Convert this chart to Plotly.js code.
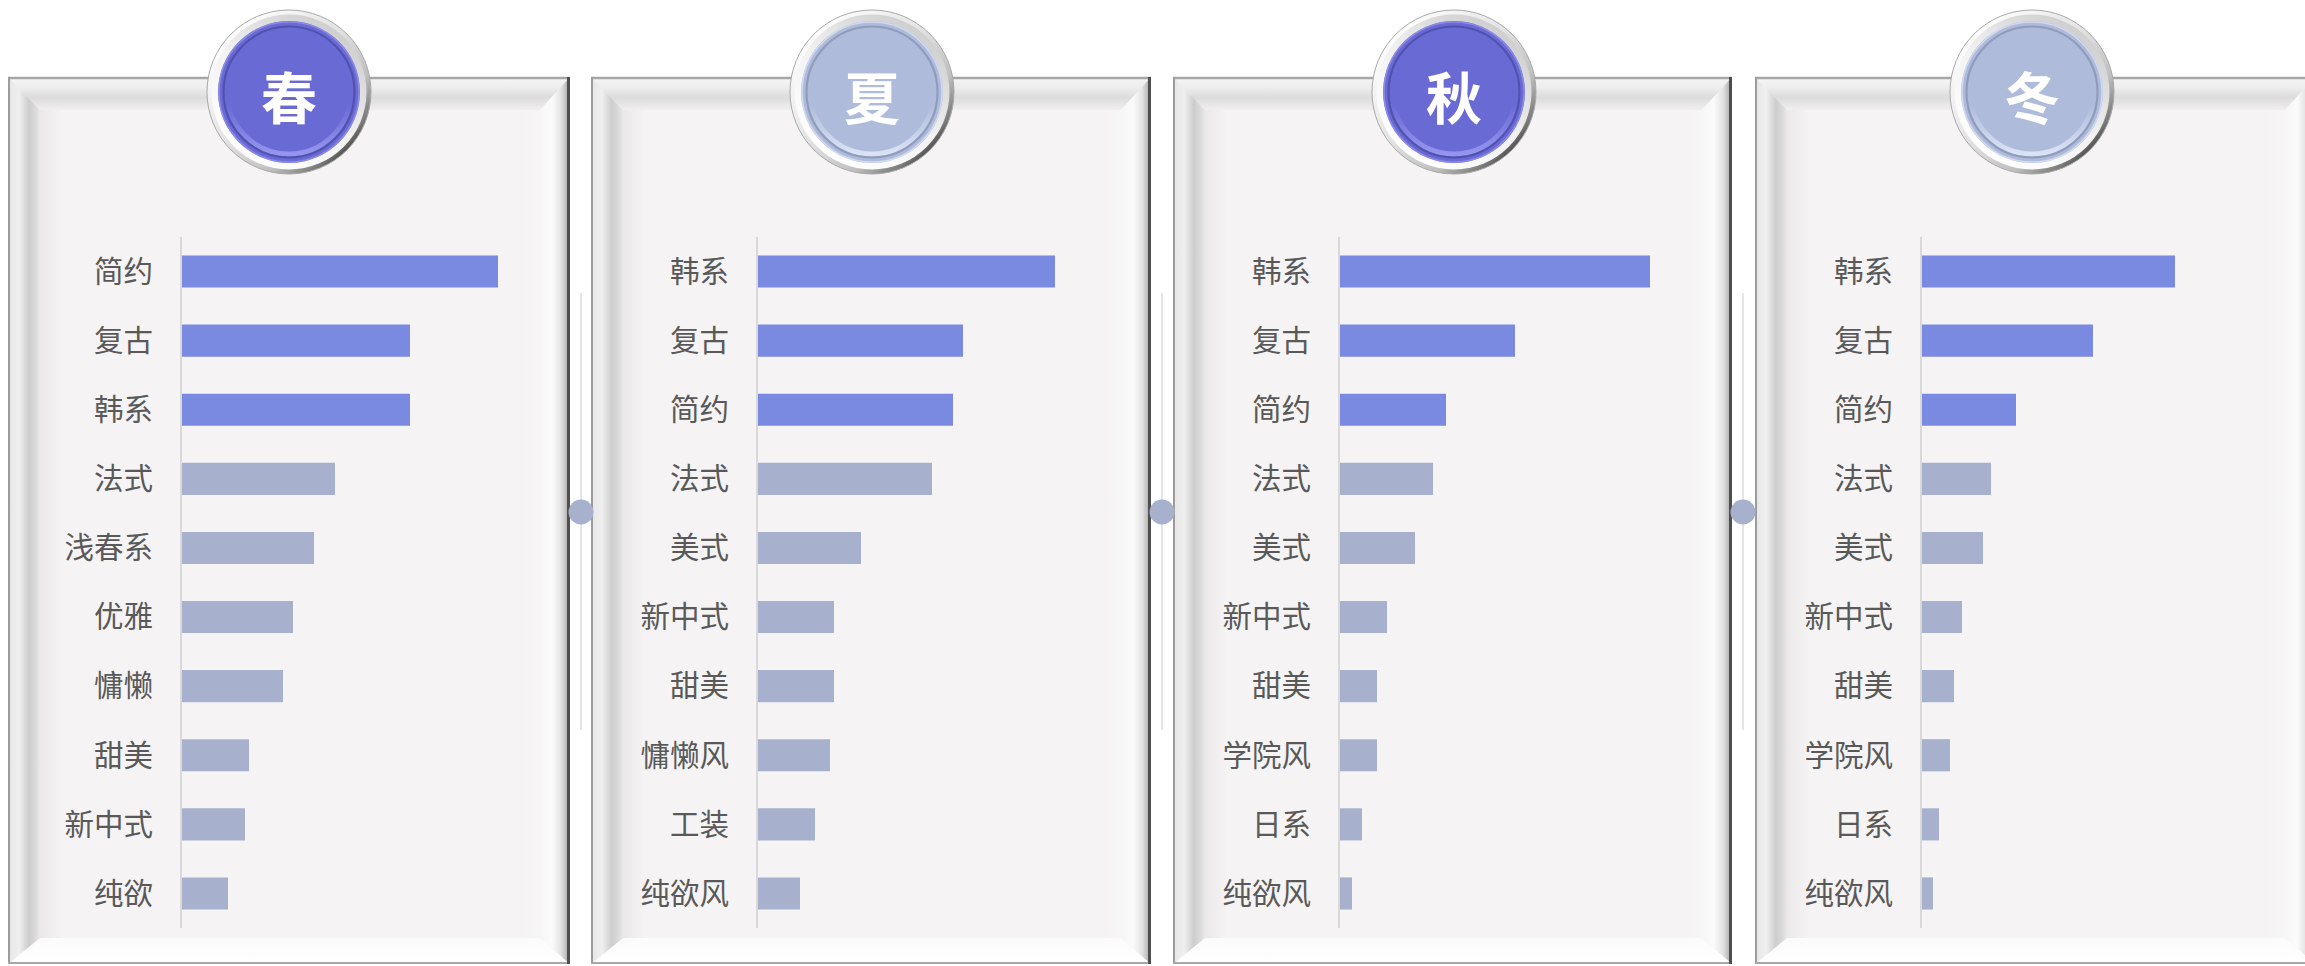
<!DOCTYPE html>
<html>
<head>
<meta charset="utf-8">
<script src="https://cdn.plot.ly/plotly-3.0.1.min.js"></script>
<style>html,body{margin:0;padding:0;background:#fff;}#chart{width:2305px;height:966px;}</style>
</head>
<body>
<div id="chart"></div>
<script>
// ---------- data ----------
const seasons = ['春', '夏', '秋', '冬'];

const springCats = ['简约', '复古', '韩系', '法式', '浅春系', '优雅', '慵懒', '甜美', '新中式', '纯欲'];
const springVals = [31.6, 22.8, 22.8, 15.3, 13.2, 11.1, 10.1, 6.7, 6.3, 4.6];

const summerCats = ['韩系', '复古', '简约', '法式', '美式', '新中式', '甜美', '慵懒风', '工装', '纯欲风'];
const summerVals = [29.7, 20.5, 19.5, 17.4, 10.3, 7.6, 7.6, 7.2, 5.7, 4.2];

const autumnCats = ['韩系', '复古', '简约', '法式', '美式', '新中式', '甜美', '学院风', '日系', '纯欲风'];
const autumnVals = [31.0, 17.5, 10.6, 9.3, 7.5, 4.7, 3.7, 3.7, 2.2, 1.2];

const winterCats = ['韩系', '复古', '简约', '法式', '美式', '新中式', '甜美', '学院风', '日系', '纯欲风'];
const winterVals = [25.3, 17.1, 9.4, 6.9, 6.1, 4.0, 3.2, 2.8, 1.7, 1.1];

const topN = 3; // highlighted leaders per season

// ---------- layout geometry (pixels) ----------
const W = 2305, H = 966;
const panelL = [8, 591, 1173, 1755];
const panelR = [570, 1151, 1732, 2315];
const panelT = 77, panelB = 964;
const circleCx = [289, 872, 1454, 2032];
const circleCy = 92;
const axisX = [182, 758, 1340, 1922];
const plotW = 340, xMax = 34;
const plotTop = 237, plotBot = 928;
const connX = [581, 1162, 1743];
const circleFill = ['#6a6ad4', '#afbbdb', '#6a6ad4', '#afbbdb'];
const circleDark = ['#4a4aa6', '#8591b2', '#4a4aa6', '#8591b2'];
const circleHi = ['#9a9af2', '#dfe7f8', '#9a9af2', '#dfe7f8'];
const hiColor = '#7a8ae0', loColor = '#a7b1ce';

// ---------- decorative background (frames, buttons, connectors) ----------
function frame(L, R, T, B) {
  const tw = 33, lw = 32, rw = 30, bw = 26;
  return `
  <rect x="${L}" y="${T}" width="${R - L}" height="${B - T}" fill="#f5f3f4"/>
  <rect x="${L + lw}" y="${T + tw}" width="22" height="${B - T - tw - bw}" fill="url(#gInL)"/>
  <rect x="${R - rw - 18}" y="${T + tw}" width="18" height="${B - T - tw - bw}" fill="url(#gInR)"/>
  <polygon points="${L},${T} ${R},${T} ${R - rw},${T + tw} ${L + lw},${T + tw}" fill="url(#gTop)"/>
  <polygon points="${L},${B} ${L + lw},${B - bw} ${R - rw},${B - bw} ${R},${B}" fill="url(#gBot)"/>
  <polygon points="${L},${T} ${L + lw},${T + tw} ${L + lw},${B - bw} ${L},${B}" fill="url(#gLeft)"/>
  <polygon points="${R},${T} ${R},${B} ${R - rw},${B - bw} ${R - rw},${T + tw}" fill="url(#gRight)"/>
  <line x1="${L}" y1="${T + 1}" x2="${R}" y2="${T + 1}" stroke="#a6a6a6" stroke-width="2.5"/>
  <line x1="${L + 1}" y1="${T}" x2="${L + 1}" y2="${B}" stroke="#9c9c9c" stroke-width="2"/>
  <line x1="${L}" y1="${B - 1}" x2="${R}" y2="${B - 1}" stroke="#a8a8a8" stroke-width="2"/>
  <line x1="${R - 1.5}" y1="${T}" x2="${R - 1.5}" y2="${B}" stroke="#4e4e4e" stroke-width="3"/>`;
}
function button(cx, cy, i) {
  return `
  <circle cx="${cx}" cy="${cy}" r="82" fill="url(#gSil)" stroke="#a9a9a9" stroke-width="1"/>
  <circle cx="${cx}" cy="${cy}" r="77.5" fill="url(#gSil2)"/>
  <circle cx="${cx}" cy="${cy}" r="71" fill="${circleFill[i]}"/>
  <circle cx="${cx}" cy="${cy}" r="70" fill="none" stroke="${circleHi[i]}" stroke-width="1.5" opacity="0.7"/>
  <circle cx="${cx}" cy="${cy}" r="62" fill="none" stroke="url(#gHi${i})" stroke-width="5"/>
  <circle cx="${cx}" cy="${cy}" r="65.5" fill="none" stroke="${circleDark[i]}" stroke-width="2.2" opacity="0.75"/>`;
}
let defs = `
  <linearGradient id="gTop" x1="0" y1="0" x2="0" y2="1">
    <stop offset="0" stop-color="#f5f5f5"/><stop offset="0.3" stop-color="#eeeeee"/>
    <stop offset="0.62" stop-color="#dcdcdc"/><stop offset="1" stop-color="#f1eff0"/></linearGradient>
  <linearGradient id="gBot" x1="0" y1="0" x2="0" y2="1">
    <stop offset="0" stop-color="#fbfbfb"/><stop offset="1" stop-color="#ffffff"/></linearGradient>
  <linearGradient id="gLeft" x1="0" y1="0" x2="1" y2="0">
    <stop offset="0" stop-color="#e6e6e6"/><stop offset="0.35" stop-color="#efefef"/>
    <stop offset="0.65" stop-color="#cdcdcd"/><stop offset="0.85" stop-color="#dadada"/>
    <stop offset="1" stop-color="#eae8e9"/></linearGradient>
  <linearGradient id="gInL" x1="0" y1="0" x2="1" y2="0">
    <stop offset="0" stop-color="#eae8e9"/><stop offset="1" stop-color="#f5f3f4"/></linearGradient>
  <linearGradient id="gInR" x1="0" y1="0" x2="1" y2="0">
    <stop offset="0" stop-color="#f5f3f4"/><stop offset="1" stop-color="#f7f6f6"/></linearGradient>
  <linearGradient id="gRight" x1="0" y1="0" x2="1" y2="0">
    <stop offset="0" stop-color="#f7f6f6"/><stop offset="0.4" stop-color="#fbfbfb"/>
    <stop offset="0.7" stop-color="#e3e3e3"/><stop offset="0.88" stop-color="#bcbcbc"/>
    <stop offset="1" stop-color="#8c8c8c"/></linearGradient>
  <linearGradient id="gSil" x1="0.15" y1="0.1" x2="0.9" y2="0.85">
    <stop offset="0" stop-color="#ffffff"/><stop offset="0.45" stop-color="#e2e2e2"/>
    <stop offset="0.75" stop-color="#bfbfbf"/><stop offset="0.92" stop-color="#7a7a7a"/>
    <stop offset="1" stop-color="#3c3c3c"/></linearGradient>
  <linearGradient id="gSil2" x1="0.8" y1="0.1" x2="0.2" y2="0.95">
    <stop offset="0" stop-color="#cfcfcf"/><stop offset="0.5" stop-color="#f2f2f2"/>
    <stop offset="1" stop-color="#ffffff"/></linearGradient>`;
for (let i = 0; i < 4; i++) {
  defs += `
  <linearGradient id="gHi${i}" x1="0" y1="0" x2="0" y2="1">
    <stop offset="0" stop-color="${circleHi[i]}" stop-opacity="0"/>
    <stop offset="0.6" stop-color="${circleHi[i]}" stop-opacity="0"/>
    <stop offset="1" stop-color="${circleHi[i]}" stop-opacity="0.9"/></linearGradient>`;
}
let body = '';
for (let i = 0; i < 4; i++) body += frame(panelL[i], panelR[i], panelT, panelB);
for (let i = 0; i < 3; i++) {
  body += `<line x1="${connX[i]}" y1="293" x2="${connX[i]}" y2="730" stroke="#dcdcdc" stroke-width="1.5"/>
  <circle cx="${connX[i]}" cy="512" r="12.5" fill="#a7b1ce"/>`;
}
for (let i = 0; i < 4; i++) body += button(circleCx[i], circleCy, i);
const svg = `<svg xmlns="http://www.w3.org/2000/svg" width="${W}" height="${H}" viewBox="0 0 ${W} ${H}"><defs>${defs}</defs>${body}</svg>`;
const bgSrc = 'data:image/svg+xml;charset=utf-8,' + encodeURIComponent(svg);

// ---------- traces ----------
const catsList = [springCats, summerCats, autumnCats, winterCats];
const valsList = [springVals, summerVals, autumnVals, winterVals];
const traces = [];
const layout = {
  width: W, height: H, autosize: false,
  margin: {l: 0, r: 0, t: 0, b: 0, pad: 0},
  paper_bgcolor: '#ffffff', plot_bgcolor: 'rgba(0,0,0,0)',
  showlegend: false, bargap: 0.54,
  font: {family: '"Noto Sans CJK SC", "Noto Sans", sans-serif', color: '#595959'},
  images: [{source: bgSrc, xref: 'paper', yref: 'paper', x: 0, y: 1, sizex: 1, sizey: 1,
            xanchor: 'left', yanchor: 'top', sizing: 'stretch', layer: 'below'}],
  annotations: []
};
const yDom = [1 - plotBot / H, 1 - plotTop / H];
for (let i = 0; i < 4; i++) {
  const sfx = i === 0 ? '' : String(i + 1);
  const cats = catsList[i], vals = valsList[i];
  traces.push({
    type: 'bar', orientation: 'h',
    x: vals, y: cats,
    xaxis: 'x' + sfx, yaxis: 'y' + sfx,
    width: 0.465,
    marker: {color: vals.map((v, k) => k < topN ? hiColor : loColor), line: {width: 0}},
    hoverinfo: 'x+y'
  });
  layout['xaxis' + sfx] = {
    domain: [axisX[i] / W, (axisX[i] + plotW) / W], range: [0, xMax],
    visible: false, fixedrange: true, anchor: 'y' + sfx
  };
  layout['yaxis' + sfx] = {
    domain: yDom, anchor: 'x' + sfx,
    type: 'category', categoryorder: 'array', categoryarray: cats,
    range: [cats.length - 0.5, -0.5],
    showline: true, linecolor: '#d9d9d9', linewidth: 2,
    showgrid: false, zeroline: false, ticks: '',
    ticklabelstandoff: 21,
    tickfont: {size: 29.5, color: '#595959', family: '"Noto Sans CJK SC", sans-serif'},
    fixedrange: true
  };
  layout.annotations.push({
    text: seasons[i], xref: 'paper', yref: 'paper',
    x: circleCx[i] / W, y: 1 - (circleCy + 2) / H, xanchor: 'center', yanchor: 'middle',
    showarrow: false,
    font: {size: 56, color: '#ffffff', family: '"Noto Sans CJK SC", sans-serif', weight: 700}
  });
}
Plotly.newPlot('chart', traces, layout, {displayModeBar: false, staticPlot: true});
</script>
</body>
</html>
